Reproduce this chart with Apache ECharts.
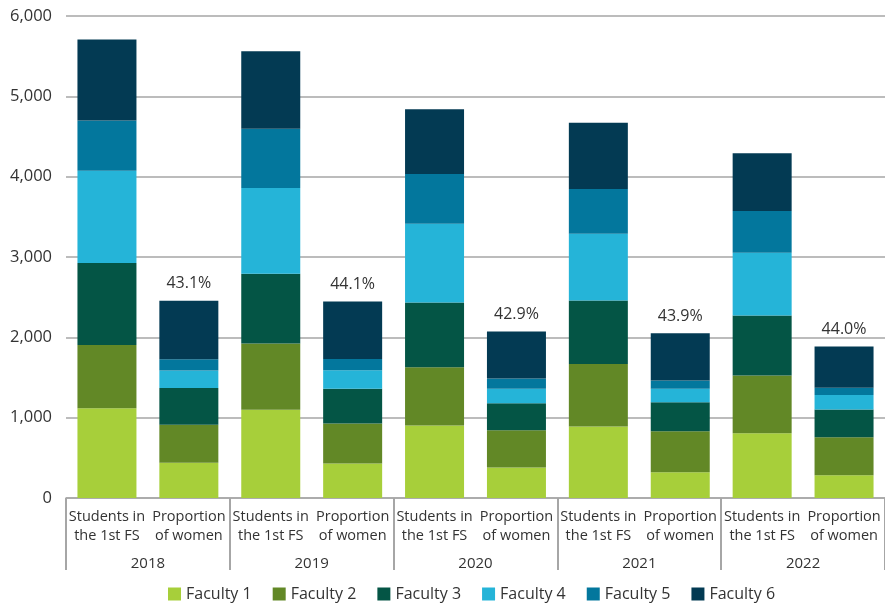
<!DOCTYPE html>
<html>
<head>
<meta charset="utf-8">
<title>Students in the 1st FS by faculty</title>
<script src="https://cdn.jsdelivr.net/npm/echarts@6/dist/echarts.min.js"></script>
<style>
  html, body { margin: 0; padding: 0; background: #fff; }
  #chart { width: 885px; height: 610px; }
</style>
</head>
<body>
<div id="chart"></div>
<script>
// categories: two bars per year
const years = ["2018", "2019", "2020", "2021", "2022"];
const barLabels = ["Students in\nthe 1st FS", "Proportion\nof women"];
const womenShare = ["43.1%", "44.1%", "42.9%", "43.9%", "44.0%"];

// values per faculty, in category order: 2018 students, 2018 women, 2019 students, ...
const faculty1 = [1117, 439, 1097, 429, 903, 380, 891, 320, 806, 283];
const faculty2 = [789, 473, 826, 498, 725, 462, 776, 510, 720, 474];
const faculty3 = [1020, 456, 870, 432, 806, 337, 791, 362, 747, 346];
const faculty4 = [1147, 218, 1067, 231, 979, 180, 831, 167, 780, 179];
const faculty5 = [625, 141, 736, 141, 621, 128, 558, 103, 521, 90];
const faculty6 = [1008, 728, 965, 715, 804, 587, 825, 588, 716, 513];

const yTicks = [0, 1000, 2000, 3000, 4000, 5000, 6000];

const colors = ["#a7cf3a", "#628826", "#045545", "#25b4d8", "#03779d", "#033a53"];
const names = ["Faculty 1", "Faculty 2", "Faculty 3", "Faculty 4", "Faculty 5", "Faculty 6"];
const values = [faculty1, faculty2, faculty3, faculty4, faculty5, faculty6];

const categories = [];
years.forEach(() => {
  barLabels.forEach((l) => categories.push(l));
});

const font = "'Open Sans', 'DejaVu Sans', sans-serif";
const chart = echarts.init(document.getElementById("chart"));

const series = values.map((data, i) => ({
  type: "bar",
  name: names[i],
  stack: "total",
  barWidth: 59,
  data: data,
  itemStyle: { color: colors[i] },
  label:
    i === values.length - 1
      ? {
          show: true,
          position: "top",
          distance: 9,
          color: "#333",
          fontSize: 16,
          fontFamily: font,
          formatter: (p) => (p.dataIndex % 2 === 1 ? womenShare[(p.dataIndex - 1) / 2] : ""),
        }
      : { show: false },
}));

chart.setOption({
  animation: false,
  backgroundColor: "#fff",
  color: colors,
  textStyle: { fontFamily: font },
  grid: { left: 66, right: 0, top: 16, bottom: 112 },
  legend: {
    data: names,
    bottom: 3,
    left: 163,
    itemWidth: 13,
    itemHeight: 13,
    itemGap: 21,
    icon: "rect",
    textStyle: { color: "#333", fontSize: 16, fontFamily: font },
  },
  xAxis: [
    {
      type: "category",
      data: categories,
      position: "bottom",
      axisLine: { show: false },
      axisTick: { show: false },
      axisLabel: {
        interval: 0,
        margin: 9,
        color: "#333",
        fontSize: 14.5,
        lineHeight: 19,
        fontFamily: font,
      },
    },
    {
      type: "category",
      data: years,
      position: "bottom",
      axisLine: { show: true, lineStyle: { color: "#a6a6a6", width: 1.5 } },
      axisTick: { show: true, length: 72, interval: 0, lineStyle: { color: "#a6a6a6", width: 2 } },
      axisLabel: {
        interval: 0,
        margin: 58,
        color: "#333",
        fontSize: 15,
        fontFamily: font,
      },
    },
  ],
  yAxis: {
    type: "value",
    min: yTicks[0],
    max: yTicks[yTicks.length - 1],
    interval: 1000,
    axisLine: { show: false },
    axisTick: { show: false },
    axisLabel: {
      margin: 14,
      color: "#333",
      fontSize: 16.5,
      fontFamily: font,
      formatter: (v) => v.toLocaleString("en-US"),
    },
    splitLine: { lineStyle: { color: "#a6a6a6", width: 1.5 } },
  },
  series: series,
});
</script>
</body>
</html>
